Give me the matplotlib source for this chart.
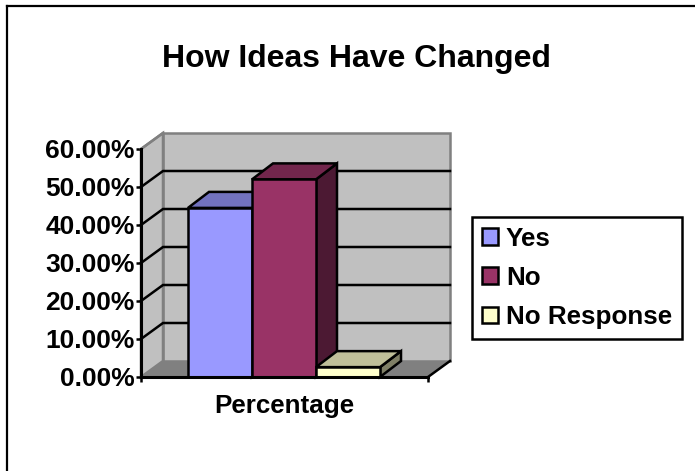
import matplotlib
matplotlib.use('Agg')
import matplotlib.pyplot as plt
from matplotlib.patches import Polygon, Patch
from matplotlib.lines import Line2D

plt.rcParams['font.family'] = ['Liberation Sans', 'DejaVu Sans']

# data
series = ['Yes', 'No', 'No Response']
values = [44.5, 52.0, 2.6]
front_colors = ['#9999FF', '#993366', '#FFFFCC']
top_colors = ['#7272BF', '#72264C', '#BFBF99']
side_colors = ['#4C4C7F', '#4C1933', '#7F7F66']
yticks = [0, 10, 20, 30, 40, 50, 60]
ytick_labels = ['0.00%', '10.00%', '20.00%', '30.00%', '40.00%', '50.00%', '60.00%']
category = 'Percentage'

W, H = 695, 471
fig = plt.figure(figsize=(W / 100, H / 100), dpi=100, facecolor='white')

# outer frame only shows on the top and left
fig.add_artist(Line2D([7 / W, 7 / W], [0, 1 - 6 / H], color='black', lw=1.6))
fig.add_artist(Line2D([7 / W, 1], [1 - 6 / H, 1 - 6 / H], color='black', lw=1.6))

fig.text(356 / W, 1 - 58.5 / H, 'How Ideas Have Changed', ha='center', va='center',
         fontsize=23, fontweight='bold')

# axes = front plane of the 3D box
L, R, B, T = 141, 428, 377, 149
ax = fig.add_axes([L / W, 1 - B / H, (R - L) / W, (B - T) / H])
ax.set_xlim(0, 1)
ax.set_ylim(0, 60)
ax.patch.set_visible(False)
for s in ax.spines.values():
    s.set_visible(False)

# depth of the box in data units
dx = 22 / (R - L)
dy = 16 / (B - T) * 60
top = yticks[-1]

# floor and walls
ax.add_patch(Polygon([(0, 0), (1, 0), (1 + dx, dy), (dx, dy)], fc='#808080', ec='none',
                     clip_on=False, zorder=1))
ax.add_patch(Polygon([(dx, dy), (1 + dx, dy), (1 + dx, top + dy), (dx, top + dy)], fc='#C0C0C0',
                     ec='#808080', lw=1.8, clip_on=False, zorder=1))
ax.add_patch(Polygon([(0, 0), (dx, dy), (dx, top + dy), (0, top)], fc='#C0C0C0',
                     ec='#808080', lw=1.8, clip_on=False, zorder=1))

# gridlines on the side wall and back wall
for v in yticks[1:-1]:
    ax.plot([0, dx, 1 + dx], [v, v + dy, v + dy], color='black', lw=1.8, clip_on=False,
            solid_joinstyle='miter', zorder=2)
ax.plot([0, dx], [top, top + dy], color='#808080', lw=1.8, clip_on=False, zorder=2)

# bars, later ones in front of earlier ones
bar_w = 64 / (R - L)
start = (188 - L) / (R - L)
bar_dx = 21 / (R - L)
bar_dy = 16 / (B - T) * 60
for i, v in enumerate(values):
    x0 = start + i * bar_w
    x1 = x0 + bar_w
    kw = dict(ec='black', lw=1.8, joinstyle='miter', clip_on=False)
    z = 3 + i * 0.1
    ax.add_patch(Polygon([(x1, 0), (x1 + bar_dx, bar_dy), (x1 + bar_dx, v + bar_dy), (x1, v)],
                         fc=side_colors[i], zorder=z, **kw))
    ax.add_patch(Polygon([(x0, v), (x1, v), (x1 + bar_dx, v + bar_dy), (x0 + bar_dx, v + bar_dy)],
                         fc=top_colors[i], zorder=z, **kw))
    ax.add_patch(Polygon([(x0, 0), (x1, 0), (x1, v), (x0, v)], fc=front_colors[i],
                         zorder=z + 0.05, **kw))

# front axis lines
ax.plot([0, 0], [0, top], color='black', lw=2.2, clip_on=False, zorder=5)
ax.plot([0, 1], [0, 0], color='black', lw=2.2, clip_on=False, zorder=5)
ax.plot([1, 1 + dx], [0, dy], color='black', lw=1.8, clip_on=False, zorder=5)

ax.set_yticks(yticks)
ax.set_yticklabels(ytick_labels, fontsize=19, fontweight='bold')
ax.set_xticks([0, 1])
ax.set_xticklabels(['', ''])
ax.tick_params(axis='both', length=3.5, width=1.8, color='black', pad=1)
ax.set_xlabel(category, fontsize=18.7, fontweight='bold')
ax.xaxis.set_label_coords(0.5, -0.076)

# legend
handles = [Patch(fc=c, ec='black', lw=1.8, label=s) for c, s in zip(front_colors, series)]
leg = fig.legend(handles=handles, loc='center left', bbox_to_anchor=(472 / W, 1 - 278 / H),
                 frameon=True, fancybox=False, edgecolor='black', framealpha=1,
                 prop={'size': 18.7, 'weight': 'bold'}, borderaxespad=0,
                 handlelength=0.62, handleheight=0.62, handletextpad=0.3, labelspacing=0.58,
                 borderpad=0.38)
leg.get_frame().set_linewidth(1.8)

fig.savefig('out.png', dpi=100)
